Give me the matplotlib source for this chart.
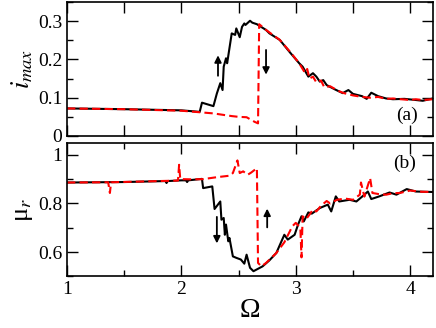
import numpy as np
import matplotlib
matplotlib.use("Agg")
import matplotlib.pyplot as plt
from matplotlib.ticker import MultipleLocator, FormatStrFormatter

plt.rcParams['font.family'] = ['Liberation Serif', 'DejaVu Serif']
plt.rcParams['mathtext.fontset'] = 'stix'

# panel (a): i_max, forward (black) and backward (red) sweep
om_a_up = [1.0, 1.5, 2.0, 2.16, 2.18, 2.28, 2.31, 2.34, 2.36, 2.37, 2.39, 2.40, 2.42,
           2.44, 2.47, 2.48, 2.51, 2.53, 2.55, 2.56, 2.60, 2.62, 2.66, 2.74, 2.77,
           2.86, 2.95, 3.03, 3.06, 3.11, 3.15, 3.18, 3.21, 3.24, 3.27, 3.34, 3.41,
           3.46, 3.50, 3.58, 3.62, 3.66, 3.72, 3.79, 3.85, 3.95, 4.05, 4.11, 4.2]
imax_up = [0.072, 0.070, 0.067, 0.063, 0.087, 0.078, 0.111, 0.138, 0.120, 0.181, 0.203,
           0.190, 0.229, 0.268, 0.264, 0.281, 0.258, 0.285, 0.294, 0.290, 0.301, 0.296,
           0.292, 0.277, 0.268, 0.251, 0.218, 0.190, 0.181, 0.155, 0.164, 0.155, 0.142,
           0.146, 0.133, 0.122, 0.112, 0.120, 0.110, 0.104, 0.097, 0.113, 0.104, 0.098,
           0.096, 0.097, 0.094, 0.092, 0.098]
om_a_dn = [1.0, 1.5, 2.0, 2.16, 2.28, 2.37, 2.44, 2.50, 2.57, 2.64, 2.67, 2.68, 2.74,
           2.86, 2.95, 3.03, 3.08, 3.10, 3.12, 3.15, 3.18, 3.22, 3.25, 3.30, 3.37,
           3.42, 3.50, 3.58, 3.65, 3.72, 3.79, 3.85, 3.92, 4.0, 4.05, 4.11, 4.2]
imax_dn = [0.072, 0.070, 0.066, 0.062, 0.059, 0.055, 0.052, 0.050, 0.049, 0.037, 0.033,
           0.292, 0.277, 0.251, 0.220, 0.190, 0.165, 0.175, 0.150, 0.155, 0.140, 0.145,
           0.127, 0.130, 0.118, 0.112, 0.106, 0.102, 0.100, 0.102, 0.097, 0.098, 0.096,
           0.094, 0.096, 0.094, 0.096]

# panel (b): mu_r
om_b_up = [1.0, 1.5, 1.86, 1.87, 1.88, 2.0, 2.04, 2.05, 2.06, 2.10, 2.18, 2.19, 2.27,
           2.29, 2.34, 2.35, 2.37, 2.38, 2.39, 2.41, 2.42, 2.45, 2.48, 2.52, 2.55,
           2.57, 2.60, 2.63, 2.67, 2.71, 2.77, 2.83, 2.90, 2.93, 2.99, 3.02, 3.05,
           3.07, 3.11, 3.14, 3.21, 3.28, 3.31, 3.35, 3.38, 3.47, 3.53, 3.59, 3.63,
           3.66, 3.73, 3.82, 3.88, 3.97, 4.05, 4.2]
mu_up = [0.886, 0.888, 0.892, 0.884, 0.892, 0.895, 0.895, 0.888, 0.895, 0.897, 0.901,
         0.863, 0.870, 0.777, 0.808, 0.733, 0.740, 0.671, 0.713, 0.644, 0.658, 0.582,
         0.576, 0.569, 0.552, 0.589, 0.535, 0.521, 0.531, 0.541, 0.566, 0.596, 0.671,
         0.651, 0.671, 0.713, 0.747, 0.726, 0.763, 0.758, 0.781, 0.795, 0.767, 0.829,
         0.808, 0.815, 0.808, 0.832, 0.849, 0.818, 0.829, 0.845, 0.836, 0.859, 0.849,
         0.847]
om_b_dn = [1.0, 1.36, 1.375, 1.385, 1.97, 1.98, 1.99, 2.1, 2.19, 2.31, 2.42, 2.45, 2.49,
           2.51, 2.54, 2.58, 2.61, 2.66, 2.67, 2.70, 2.74, 2.83, 2.90, 2.97, 3.0,
           3.04, 3.05, 3.06, 3.09, 3.12, 3.15, 3.18, 3.22, 3.27, 3.30, 3.36, 3.43,
           3.50, 3.56, 3.57, 3.60, 3.65, 3.67, 3.73, 3.79, 3.85, 3.91, 4.0, 4.1, 4.2]
mu_dn = [0.886, 0.887, 0.843, 0.887, 0.894, 0.959, 0.900, 0.899, 0.900, 0.908, 0.914,
         0.925, 0.977, 0.925, 0.932, 0.918, 0.927, 0.945, 0.555, 0.541, 0.555, 0.596,
         0.640, 0.706, 0.720, 0.700, 0.578, 0.747, 0.735, 0.754, 0.775, 0.767, 0.790,
         0.810, 0.800, 0.815, 0.820, 0.815, 0.836, 0.886, 0.828, 0.904, 0.843, 0.838,
         0.836, 0.842, 0.843, 0.853, 0.848, 0.847]

fig = plt.figure(figsize=(4.36, 3.28), dpi=100)
ax1 = fig.add_axes([0.1537, 0.5854, 0.8395, 0.4085])
ax2 = fig.add_axes([0.1537, 0.1576, 0.8395, 0.4074])

ax1.plot(om_a_up, imax_up, color='black', lw=1.5)
ax1.plot(om_a_dn, imax_dn, color='red', lw=1.5, ls=(0, (4, 2)))
ax2.plot(om_b_up, mu_up, color='black', lw=1.5)
ax2.plot(om_b_dn, mu_dn, color='red', lw=1.5, ls=(0, (4, 2)))

arrow = dict(arrowstyle='-|>', color='black', lw=1.3, mutation_scale=10)
ax1.annotate('', xy=(2.32, 0.218), xytext=(2.32, 0.150), arrowprops=arrow)
ax1.annotate('', xy=(2.74, 0.153), xytext=(2.74, 0.232), arrowprops=arrow)
ax2.annotate('', xy=(2.31, 0.624), xytext=(2.31, 0.756), arrowprops=arrow)
ax2.annotate('', xy=(2.75, 0.790), xytext=(2.75, 0.690), arrowprops=arrow)

ax1.text(3.97, 0.055, '(a)', fontsize=14, ha='center', va='center')
ax2.text(3.95, 0.965, '(b)', fontsize=14, ha='center', va='center')

for ax in (ax1, ax2):
    ax.set_xlim(1, 4.2)
    ax.tick_params(which='both', direction='in', top=True, right=True, labelsize=14, width=1.0)
    ax.tick_params(which='major', length=8)
    ax.tick_params(which='minor', length=4.5)
    for s in ax.spines.values():
        s.set_linewidth(1.2)

ax1.set_ylim(0, 0.35)
ax1.xaxis.set_major_locator(MultipleLocator(0.5))
ax1.yaxis.set_major_locator(MultipleLocator(0.1))
ax1.yaxis.set_minor_locator(MultipleLocator(0.05))
ax1.yaxis.set_major_formatter(FormatStrFormatter('%g'))
ax1.tick_params(labelbottom=False)
ax1.set_ylabel(r'$i_{max}$', fontsize=19, labelpad=2)

ax2.set_ylim(0.5, 1.05)
ax2.xaxis.set_major_locator(MultipleLocator(1))
ax2.xaxis.set_minor_locator(MultipleLocator(0.5))
ax2.yaxis.set_major_locator(MultipleLocator(0.2))
ax2.yaxis.set_minor_locator(MultipleLocator(0.1))
ax2.yaxis.set_major_formatter(FormatStrFormatter('%g'))
ax2.set_ylabel('μ$_r$', fontsize=19, labelpad=2)
ax2.set_xlabel('Ω', fontsize=20, labelpad=0)

fig.savefig('out.png', dpi=100)
